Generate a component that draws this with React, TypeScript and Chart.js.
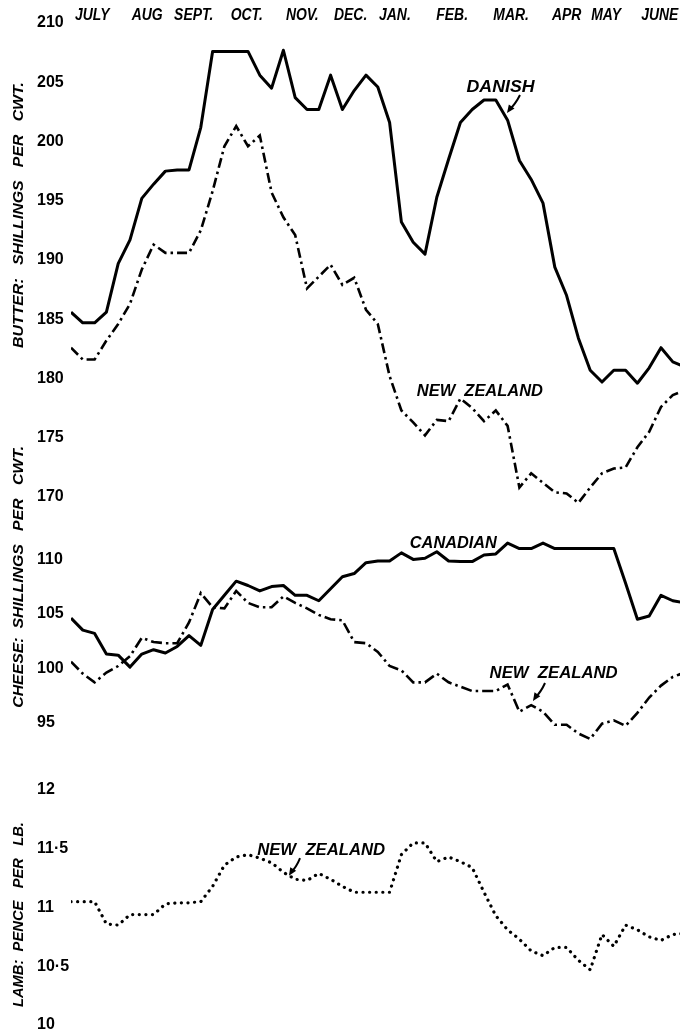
import React, { useEffect, useRef } from 'react';
import { Chart, registerables } from 'chart.js';

Chart.register(...registerables);

// ---------- data (weekly readings, July → June) ----------
const monthLabels = ['JULY', 'AUG', 'SEPT.', 'OCT.', 'NOV.', 'DEC.', 'JAN.', 'FEB.', 'MAR.', 'APR', 'MAY', 'JUNE'];
const monthPositions = [1.8, 6.45, 10.4, 14.9, 19.6, 23.7, 27.45, 32.3, 37.3, 42.0, 45.35, 49.9]; // in weeks

const butterTicks = [210, 205, 200, 195, 190, 185, 180, 175, 170];
const cheeseTicks = [110, 105, 100, 95];
const lambTicks = [12, 11.5, 11, 10.5, 10];

const butterDanish = [185.6, 184.7, 184.7, 185.6, 189.7, 191.7, 195.2, 196.4, 197.5, 197.6, 197.6, 201.2, 207.6, 207.6, 207.6, 207.6, 205.6, 204.5, 207.7, 203.7, 202.7, 202.7, 205.6, 202.7, 204.3, 205.6, 204.6, 201.6, 193.2, 191.5, 190.5, 195.3, 198.5, 201.6, 202.7, 203.5, 203.5, 201.8, 198.4, 196.8, 194.8, 189.4, 187.0, 183.4, 180.7, 179.7, 180.7, 180.7, 179.6, 180.9, 182.6, 181.4, 181.0];
const butterNZ = [182.6, 181.6, 181.6, 183.2, 184.6, 186.3, 189.2, 191.3, 190.6, 190.6, 190.6, 192.5, 195.8, 199.6, 201.3, 199.6, 200.5, 195.7, 193.6, 192.1, 187.6, 188.6, 189.6, 187.9, 188.5, 185.8, 184.6, 180.2, 177.3, 176.3, 175.2, 176.5, 176.4, 178.3, 177.5, 176.4, 177.3, 176.0, 170.8, 172.0, 171.2, 170.4, 170.3, 169.5, 170.8, 172.0, 172.4, 172.5, 174.2, 175.5, 177.6, 178.6, 179.0];
const cheeseCanadian = [104.6, 103.5, 103.2, 101.3, 101.2, 100.1, 101.3, 101.7, 101.4, 102.0, 103.0, 102.1, 105.4, 106.7, 108.0, 107.6, 107.1, 107.5, 107.6, 106.7, 106.7, 106.2, 107.3, 108.4, 108.7, 109.7, 109.85, 109.85, 110.6, 110.0, 110.1, 110.7, 109.85, 109.8, 109.8, 110.4, 110.5, 111.5, 111.0, 111.0, 111.5, 111.0, 111.0, 111.0, 111.0, 111.0, 111.0, 107.8, 104.5, 104.8, 106.7, 106.2, 106.0];
const cheeseNZ = [100.6, 99.5, 98.7, 99.6, 100.2, 101.1, 102.8, 102.4, 102.3, 102.3, 104.2, 106.9, 105.6, 105.5, 107.1, 106.0, 105.6, 105.6, 106.6, 106.0, 105.5, 104.9, 104.5, 104.4, 102.4, 102.3, 101.5, 100.2, 99.8, 98.7, 98.7, 99.5, 98.7, 98.3, 97.9, 97.9, 97.9, 98.5, 96.0, 96.6, 96.0, 94.8, 94.8, 94.0, 93.5, 94.9, 95.2, 94.7, 95.9, 97.3, 98.4, 99.2, 99.6];
const lambNZ = [11.05, 11.05, 11.05, 10.86, 10.85, 10.94, 10.94, 10.94, 11.03, 11.04, 11.04, 11.05, 11.18, 11.36, 11.43, 11.45, 11.42, 11.38, 11.3, 11.24, 11.23, 11.29, 11.24, 11.18, 11.13, 11.13, 11.13, 11.13, 11.45, 11.55, 11.55, 11.39, 11.43, 11.39, 11.34, 11.13, 10.93, 10.81, 10.73, 10.63, 10.59, 10.66, 10.66, 10.55, 10.47, 10.77, 10.67, 10.85, 10.81, 10.75, 10.72, 10.77, 10.78];

const weeks = butterDanish.map((_, i) => i);

// ---------- layout ----------
const W = 680;
const H = 1033;
const PLOT_LEFT = 71;
const WEEK_PX = 11.8;
const X_MAX = (W - PLOT_LEFT) / WEEK_PX;

// axis range from two anchor values and their pixel rows (plot area spans 0..H)
function rangeFrom(v1: number, p1: number, v2: number, p2: number) {
  const k = (v1 - v2) / (p2 - p1);
  return { max: v1 + p1 * k, min: v1 - (H - p1) * k };
}
const butterRange = rangeFrom(210, 23, 170, 497);
const cheeseRange = rangeFrom(110, 559.4, 95, 722.6);
const lambRange = rangeFrom(12, 790, 10, 1025);

const TICK_FONT = { family: '"Liberation Sans", Arial, sans-serif', size: 16, weight: 'bold' as const };
const LABEL_FONT = 'italic bold 16px "Liberation Sans", Arial, sans-serif';
const TITLE_FONT = 'italic bold 15px "Liberation Sans", Arial, sans-serif';

function yAxis(range: { min: number; max: number }, ticks: number[], fmt: (v: number) => string) {
  return {
    type: 'linear' as const,
    position: 'left' as const,
    min: range.min,
    max: range.max,
    bounds: 'data' as const,
    grid: { display: false, drawTicks: false },
    border: { display: false },
    ticks: {
      color: '#000',
      mirror: true,
      crossAlign: 'near' as const,
      padding: -34,
      autoSkip: false,
      font: TICK_FONT,
      callback: (v: number | string) => fmt(Number(v)),
    },
    afterBuildTicks: (s: any) => {
      s.ticks = ticks.map((value) => ({ value }));
    },
    afterFit: (s: any) => {
      s.width = 0;
      s.paddingTop = 0;
      s.paddingBottom = 0;
    },
  };
}

function drawFitted(ctx: CanvasRenderingContext2D, text: string, x: number, y: number, width: number, font: string, size: number, rotation = 0) {
  ctx.save();
  ctx.translate(x, y);
  ctx.rotate(rotation);
  ctx.font = font;
  const w = ctx.measureText(text).width;
  ctx.scale(width / w, 1);
  ctx.textAlign = 'center';
  ctx.textBaseline = 'alphabetic';
  ctx.fillStyle = '#000';
  ctx.fillText(text, 0, size * 0.36);
  ctx.restore();
}

function drawArrow(ctx: CanvasRenderingContext2D, x1: number, y1: number, x2: number, y2: number) {
  const ang = Math.atan2(y2 - y1, x2 - x1);
  ctx.save();
  ctx.strokeStyle = '#000';
  ctx.fillStyle = '#000';
  ctx.lineWidth = 2;
  ctx.beginPath();
  ctx.moveTo(x1, y1);
  ctx.quadraticCurveTo((x1 + x2) / 2 + 2, (y1 + y2) / 2, x2 - Math.cos(ang) * 4, y2 - Math.sin(ang) * 4);
  ctx.stroke();
  ctx.beginPath();
  ctx.moveTo(x2, y2);
  ctx.lineTo(x2 - Math.cos(ang) * 8 + Math.sin(ang) * 3.5, y2 - Math.sin(ang) * 8 - Math.cos(ang) * 3.5);
  ctx.lineTo(x2 - Math.cos(ang) * 8 - Math.sin(ang) * 3.5, y2 - Math.sin(ang) * 8 + Math.cos(ang) * 3.5);
  ctx.closePath();
  ctx.fill();
  ctx.restore();
}

const textPlugin = {
  id: 'oldChartText',
  afterDraw(chart: any) {
    const ctx: CanvasRenderingContext2D = chart.ctx;
    const x = chart.scales.x;
    const yb = chart.scales.yButter;
    const yc = chart.scales.yCheese;
    const yl = chart.scales.yLamb;

    // month headings
    ctx.save();
    ctx.font = LABEL_FONT;
    monthLabels.forEach((m, i) => {
      const w = ctx.measureText(m).width * 0.87;
      drawFitted(ctx, m, x.getPixelForValue(monthPositions[i]), 14, w, LABEL_FONT, 16);
    });
    ctx.restore();

    // axis titles (vertical)
    const up = -Math.PI / 2;
    drawFitted(ctx, 'BUTTER:   SHILLINGS   PER   CWT.', 18, yb.getPixelForValue(193.8), 266, TITLE_FONT, 15, up);
    drawFitted(ctx, 'CHEESE:  SHILLINGS   PER   CWT.', 18, yc.getPixelForValue(108.4), 262, TITLE_FONT, 15, up);
    drawFitted(ctx, 'LAMB:  PENCE   PER   LB.', 18, yl.getPixelForValue(10.94), 185, TITLE_FONT, 15, up);

    // series labels
    drawFitted(ctx, 'DANISH', x.getPixelForValue(36.4), yb.getPixelForValue(204.7), 68, LABEL_FONT, 16);
    drawFitted(ctx, 'NEW  ZEALAND', x.getPixelForValue(34.65), yb.getPixelForValue(179.0), 126, LABEL_FONT, 16);
    drawFitted(ctx, 'CANADIAN', x.getPixelForValue(32.4), yc.getPixelForValue(111.6), 87, LABEL_FONT, 16);
    drawFitted(ctx, 'NEW  ZEALAND', x.getPixelForValue(40.9), yc.getPixelForValue(99.65), 128, LABEL_FONT, 16);
    drawFitted(ctx, 'NEW  ZEALAND', x.getPixelForValue(21.2), yl.getPixelForValue(11.5), 128, LABEL_FONT, 16);

    // pointer arrows
    drawArrow(ctx, x.getPixelForValue(38.05), yb.getPixelForValue(203.92), x.getPixelForValue(36.95), yb.getPixelForValue(202.4));
    drawArrow(ctx, x.getPixelForValue(40.17), yc.getPixelForValue(98.64), x.getPixelForValue(39.15), yc.getPixelForValue(96.99));
    drawArrow(ctx, x.getPixelForValue(19.41), yl.getPixelForValue(11.42), x.getPixelForValue(18.47), yl.getPixelForValue(11.27));
  },
};

export default function App() {
  const canvasRef = useRef<HTMLCanvasElement | null>(null);

  useEffect(() => {
    if (!canvasRef.current) return;
    const fmtInt = (v: number) => String(v);
    const fmtLamb = (v: number) => (Number.isInteger(v) ? String(v) : String(v).replace('.', '·'));
    const chart = new Chart(canvasRef.current, {
      type: 'line',
      data: {
        labels: weeks,
        datasets: [
          {
            label: 'Butter — Danish',
            data: butterDanish,
            yAxisID: 'yButter',
            borderColor: '#000',
            borderWidth: 3,
            borderJoinStyle: 'round',
          },
          {
            label: 'Butter — New Zealand',
            data: butterNZ,
            yAxisID: 'yButter',
            borderColor: '#000',
            borderWidth: 2.6,
            borderDash: [10, 4, 2.5, 4],
          },
          {
            label: 'Cheese — Canadian',
            data: cheeseCanadian,
            yAxisID: 'yCheese',
            borderColor: '#000',
            borderWidth: 3,
            borderJoinStyle: 'round',
          },
          {
            label: 'Cheese — New Zealand',
            data: cheeseNZ,
            yAxisID: 'yCheese',
            borderColor: '#000',
            borderWidth: 2.6,
            borderDash: [11, 4, 2.5, 4],
          },
          {
            label: 'Lamb — New Zealand',
            data: lambNZ,
            yAxisID: 'yLamb',
            borderColor: '#000',
            borderWidth: 3.2,
            borderCapStyle: 'round',
            borderDash: [0.1, 6.5],
          },
        ],
      },
      options: {
        responsive: false,
        animation: false,
        events: [],
        layout: { padding: { left: PLOT_LEFT, top: 0, right: 0, bottom: 0 }, autoPadding: false },
        elements: { point: { radius: 0 }, line: { tension: 0 } },
        plugins: { legend: { display: false }, tooltip: { enabled: false } },
        scales: {
          x: { type: 'linear', display: false, min: 0, max: X_MAX },
          yButter: yAxis(butterRange, butterTicks, fmtInt),
          yCheese: yAxis(cheeseRange, cheeseTicks, fmtInt),
          yLamb: yAxis(lambRange, lambTicks, fmtLamb),
        },
      } as any,
      plugins: [textPlugin],
    });
    return () => chart.destroy();
  }, []);

  return (
    <div style={{ position: 'absolute', left: 0, top: 0, width: W, height: H, background: '#fff' }}>
      <canvas ref={canvasRef} width={W} height={H} style={{ display: 'block' }} />
    </div>
  );
}
